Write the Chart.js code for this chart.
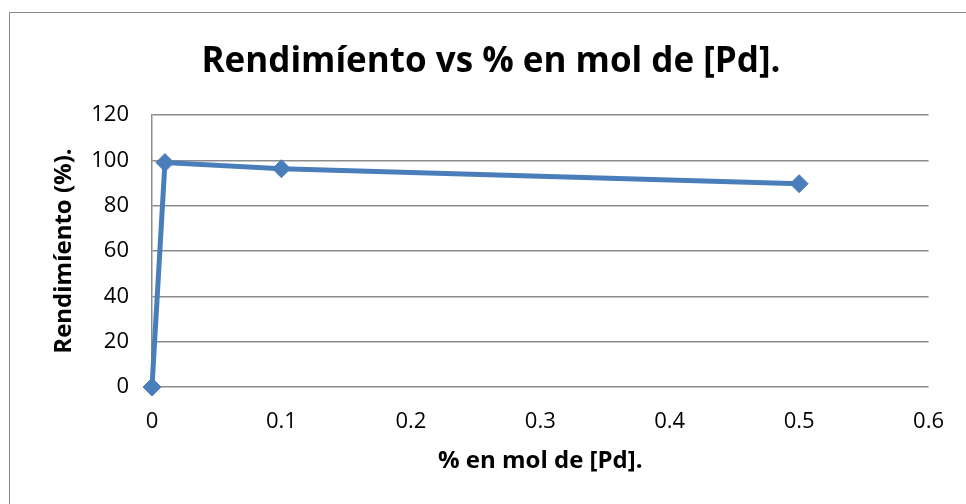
<!DOCTYPE html>
<html>
<head>
<meta charset="utf-8">
<script src="https://cdn.jsdelivr.net/npm/chart.js@4/dist/chart.umd.min.js"></script>
<style>
  html, body { margin: 0; padding: 0; background: #fff; overflow: hidden; }
  #wrap { position: relative; width: 966px; height: 504px; }
  #frame { position: absolute; left: 9px; top: 12px; width: 970px; height: 520px; border: 1.5px solid #8a8a8a; box-sizing: border-box; }
  canvas { position: absolute; left: 0; top: 0; }
</style>
</head>
<body>
<div id="wrap">
  <div id="frame"></div>
  <canvas id="rendChart" width="966" height="504"></canvas>
</div>
<script>
// % en mol de [Pd] vs rendimiento
const molPd = [0, 0.01, 0.1, 0.5];
const rendimiento = [0, 99, 96.3, 89.7];

const chartTitle = 'Rendimíento vs % en mol de [Pd].';
const xTitle = '% en mol de [Pd].';
const yTitle = 'Rendimíento (%).';

const points = molPd.map((x, i) => ({ x: x, y: rendimiento[i] }));

const gridColor = '#8c8c8c';
const blue = '#4a7ebb';

// title is centred on the outer frame, not on the canvas, so draw it here
const frameTitle = {
    id: 'frameTitle',
    afterDraw(chart) {
        const ctx = chart.ctx;
        ctx.save();
        ctx.font = 'bold 35px "Open Sans"';
        ctx.fillStyle = '#000';
        ctx.textAlign = 'center';
        ctx.textBaseline = 'middle';
        ctx.fillText(chartTitle, 491, 62);
        ctx.restore();
    }
};

new Chart('rendChart', {
    type: 'scatter',
    data: {
        datasets: [{
            data: points,
            showLine: true,
            clip: false,
            borderColor: blue,
            backgroundColor: blue,
            borderWidth: 5,
            pointStyle: 'rectRot',
            pointRadius: 9,
            pointBorderWidth: 1,
            pointBorderColor: blue,
            tension: 0,
        }]
    },
    options: {
        responsive: false,
        animation: false,
        layout: { padding: { left: 0, right: 34, top: 115, bottom: 0 } },
        plugins: {
            legend: { display: false },
            tooltip: { enabled: false },
        },
        scales: {
            x: {
                type: 'linear',
                min: 0,
                max: 0.6,
                ticks: {
                    stepSize: 0.1,
                    color: '#000',
                    padding: 22,
                    font: { family: 'Open Sans', size: 22 },
                    callback: v => Math.round(v * 10) / 10,
                },
                grid: { display: false, drawTicks: false },
                border: { display: false },
                title: {
                    display: true,
                    text: xTitle,
                    color: '#000',
                    font: { family: 'Open Sans', size: 24, weight: 'bold', lineHeight: 1.2 },
                    padding: { top: 0, bottom: 28 },
                },
                afterFit: s => { s.height = 117; }
            },
            y: {
                min: 0,
                max: 120,
                ticks: {
                    stepSize: 20,
                    color: '#000',
                    padding: 23,
                    font: { family: 'Open Sans', size: 22 },
                },
                grid: { color: gridColor, lineWidth: 1.5, drawTicks: false },
                border: { display: true, color: gridColor, width: 1.5 },
                title: {
                    display: true,
                    text: yTitle,
                    color: '#000',
                    font: { family: 'Open Sans', size: 24, weight: 'bold', lineHeight: 1.2 },
                    padding: { top: 50, bottom: 0 },
                },
                afterFit: s => { s.width = 152; }
            }
        }
    },
    plugins: [frameTitle]
});
</script>
</body>
</html>
